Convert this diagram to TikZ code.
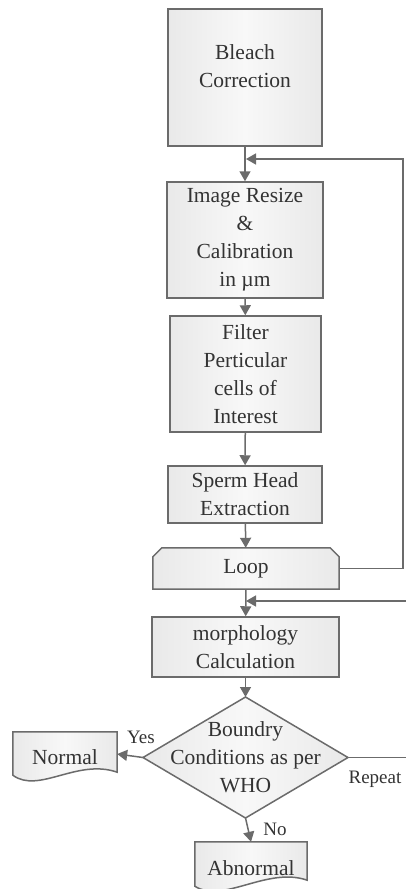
\documentclass[tikz,border=0pt]{standalone}
\usepackage{fontspec}
\setmainfont{Liberation Serif}
\usetikzlibrary{arrows.meta,calc}
\definecolor{lc}{HTML}{6B6B6B}
\definecolor{tc}{HTML}{333333}
\definecolor{bfe}{HTML}{E9E9E9}
\definecolor{bfm}{HTML}{F8F8F8}
\tikzset{
  boxfill/.style={left color=bfe, right color=bfe, middle color=bfm},
  stepbox/.style={draw=lc, line width=1.5pt, boxfill, align=center, inner sep=0pt,
     text=tc, font=\fontsize{21.5}{28}\selectfont},
  txt/.style={align=center, inner sep=0pt, text=tc, font=\fontsize{21.5}{28}\selectfont},
  shapeline/.style={draw=lc, line width=1.5pt, boxfill},
  arr/.style={draw=lc, line width=1.5pt, -{Triangle[width=11pt,length=10pt]}},
  lbl/.style={inner sep=0pt, text=tc, font=\fontsize{19}{22}\selectfont},
}
\begin{document}
\begin{tikzpicture}[x=1pt,y=1pt]
\useasboundingbox (0,0) rectangle (405,-889);
% boxes
\node[stepbox, minimum width=154pt, minimum height=137pt] (bleach) at (245,-77.5) {};
\node[txt] (bleachtxt) at (245,-66) {Bleach\\Correction};
\node[stepbox, minimum width=156pt, minimum height=116pt] (resize) at (245,-240) {Image Resize\\\&\\Calibration\\in µm};
\node[stepbox, minimum width=151pt, minimum height=116pt] (filter) at (245.5,-374) {Filter\\Perticular\\cells of\\Interest};
\node[stepbox, minimum width=154pt, minimum height=57pt] (sperm) at (245,-494.5) {Sperm Head\\Extraction};
% loop (chamfered top corners)
\node[txt, minimum width=186pt, minimum height=41pt] (loop) at (246,-568.5) {};
\path[shapeline] (loop.south west) -- ($(loop.north west)+(0,-9)$) -- ($(loop.north west)+(9,0)$)
   -- ($(loop.north east)+(-9,0)$) -- ($(loop.north east)+(0,-9)$) -- (loop.south east) -- cycle;
\node[txt] (looptxt) at (loop.center) {Loop};
\node[stepbox, minimum width=187pt, minimum height=60pt] (morph) at (245.5,-647) {morphology\\Calculation};
% diamond
\coordinate (diaN) at (245.5,-697);
\coordinate (diaS) at (245.5,-818);
\coordinate (diaW) at (143,-757.5);
\coordinate (diaE) at (348,-757.5);
\path[shapeline] (diaN) -- (diaE) -- (diaS) -- (diaW) -- cycle;
\node[txt] (dia) at (245.5,-757.5) {Boundry\\Conditions as per\\WHO};
% documents
\node[txt, minimum width=104pt, minimum height=44pt] (normal) at (65,-754) {};
\path[shapeline] (normal.north west) -- (normal.north east) -- ($(normal.south east)+(0,4)$)
   .. controls ($(normal.south east)+(-40,18)$) and ($(normal.south west)+(26,-18)$) .. ($(normal.south west)+(0,1)$) -- cycle;
\node[txt] (normaltxt) at (65,-757) {Normal};
\node[txt, minimum width=112pt, minimum height=44pt] (abn) at (251,-864) {};
\path[shapeline] (abn.north west) -- (abn.north east) -- ($(abn.south east)+(0,6)$)
   .. controls ($(abn.south east)+(-40,20)$) and ($(abn.south west)+(28,-18)$) .. ($(abn.south west)+(0,0)$) -- cycle;
\node[txt] (abntxt) at (251,-868) {Abnormal};
% main arrows
\draw[arr] (bleach) -- (resize);
\draw[arr] (resize) -- (filter);
\draw[arr] (filter) -- (sperm);
\draw[arr] (sperm) -- (loop);
\draw[arr] (loop) -- (morph);
\draw[arr] (morph) -- (diaN);
\draw[arr] (diaW) -- (normal.east);
\draw[arr] (diaS) -- (abn.north);
% return lines
\coordinate (rr1) at (403,0);
\coordinate (rr2) at (413,0);
\coordinate (j1) at (246,-159);
\coordinate (j2) at (246,-601);
\draw[arr] (loop.east) -- (loop.east -| rr1) |- (j1);
\draw[arr] (diaE) -- (diaE -| rr2) |- (j2);
% labels
\node[lbl] (yes) at (141,-737) {Yes};
\node[lbl] (no) at (275,-829) {No};
\node[lbl] (repeat) at (375,-779) {Repeat};
\end{tikzpicture}
\end{document}
